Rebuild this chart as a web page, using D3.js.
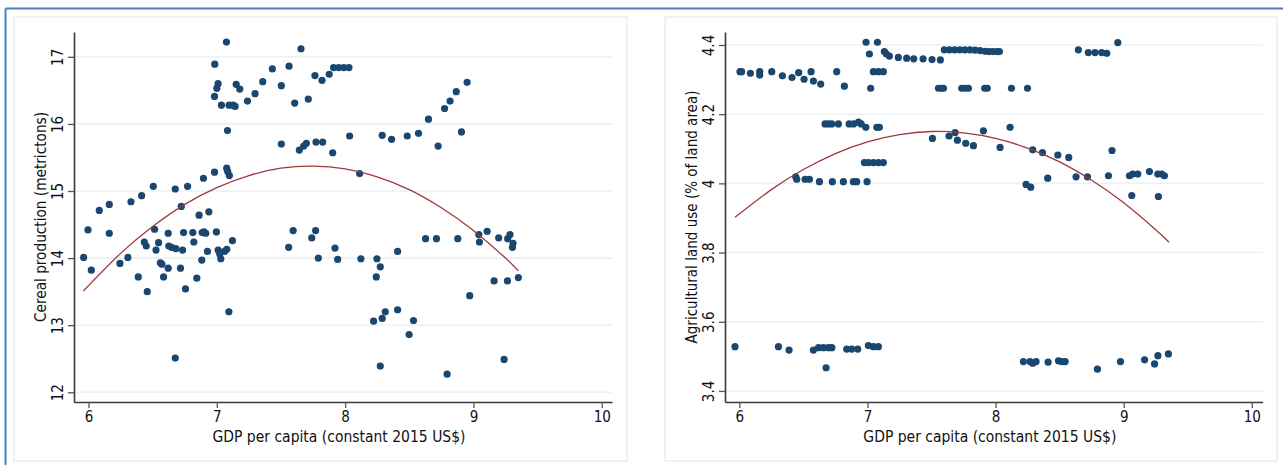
<!DOCTYPE html>
<html>
<head>
<meta charset="utf-8">
<script src="https://cdn.jsdelivr.net/npm/d3@7/dist/d3.min.js"></script>
<style>
  html, body { margin: 0; padding: 0; background: #fff; }
  svg { display: block; }
  text { font-family: "Liberation Sans Narrow", "Arial Narrow", "DejaVu Sans Condensed", sans-serif; fill: #111; }
</style>
</head>
<body>
<svg id="chart" width="1283" height="465"></svg>
<script>
// ---------- DATA ----------
const xTicks = [6, 7, 8, 9, 10];
const xTitle = "GDP per capita (constant 2015 US$)";

const cerealTicks = [12, 13, 14, 15, 16, 17];
const cerealTitle = "Cereal production (metrictons)";
const cerealPoints = [
  [7.075,17.22],[7.656,17.12],[6.984,16.89],[7.433,16.82],[7.563,16.86],[7.765,16.72],[7.82,16.65],[7.876,16.74],
  [7.91,16.84],[7.95,16.84],[7.99,16.84],[8.03,16.84],
  [7.01,16.6],[7.0,16.53],[7.151,16.59],[7.179,16.52],[7.358,16.63],[7.298,16.45],[7.239,16.34],[7.503,16.57],
  [7.607,16.31],[7.713,16.37],[6.982,16.41],[7.036,16.28],[7.096,16.28],[7.127,16.28],[7.143,16.26],[7.083,15.9],
  [7.503,15.7],[7.643,15.61],[7.677,15.67],[7.698,15.71],[7.773,15.73],[7.825,15.73],[7.903,15.57],[8.035,15.82],
  [7.077,15.34],[7.085,15.29],[7.098,15.23],[6.982,15.28],[6.896,15.19],[6.772,15.07],[6.676,15.03],[6.505,15.07],
  [6.414,14.93],[6.331,14.84],[6.162,14.8],[6.084,14.71],[5.996,14.42],[5.962,14.01],[6.022,13.82],[6.162,14.37],
  [6.245,13.92],[6.307,14.01],[6.388,13.72],[6.458,13.5],[6.515,14.43],[6.435,14.24],[6.45,14.18],[6.526,14.12],
  [6.546,14.23],[6.56,13.93],[6.572,13.91],[6.621,13.85],[6.585,13.72],[6.621,14.37],[6.626,14.18],[6.647,14.16],
  [6.681,14.14],[6.733,14.12],[6.723,14.77],[6.717,13.85],[6.756,13.54],[6.741,14.38],[6.813,14.38],[6.821,14.24],
  [6.862,14.64],[6.938,14.69],[6.886,14.38],[6.9,14.39],[6.914,14.37],[6.997,14.39],[6.844,13.7],[6.883,13.97],
  [6.927,14.1],[7.01,14.12],[7.023,14.06],[7.031,13.99],[7.06,14.1],[7.078,14.13],[7.122,14.26],[7.094,13.2],
  [6.676,12.51],[7.595,14.41],[7.56,14.16],[7.77,14.41],[7.74,14.3],[7.791,14.0],[7.921,14.15],[7.942,13.98],
  [8.951,16.62],[8.866,16.48],[8.818,16.34],[8.775,16.23],[8.65,16.07],[8.907,15.88],[8.725,15.67],[8.572,15.86],
  [8.484,15.82],[8.362,15.77],[8.289,15.83],[8.113,15.26],[8.123,13.99],[8.248,13.99],[8.274,13.87],[8.243,13.72],
  [8.409,14.1],[8.627,14.29],[8.712,14.29],[8.878,14.29],[9.042,14.35],[9.047,14.24],[9.107,14.4],[9.197,14.3],
  [9.267,14.29],[9.285,14.35],[9.309,14.22],[9.304,14.16],[9.161,13.66],[9.265,13.66],[9.35,13.71],[8.971,13.44],
  [8.222,13.06],[8.289,13.1],[8.313,13.2],[8.409,13.23],[8.533,13.07],[8.499,12.86],[8.274,12.39],[8.795,12.27],
  [9.239,12.49]
];
// fitted curve
const cerealFit = [
  [5.96,13.51],[6.25,14.07],[6.5,14.47],[6.75,14.8],[7.0,15.05],[7.25,15.23],[7.5,15.34],[7.75,15.37],
  [8.0,15.33],[8.25,15.21],[8.5,15.02],[8.75,14.75],[9.0,14.41],[9.25,14.0],[9.35,13.81]
];

const landTicks = [3.4, 3.6, 3.8, 4, 4.2, 4.4];
const landTitle = "Agricultural land use (% of land area)";
const landPoints = [
  [6.989,4.408],[7.078,4.408],[7.015,4.374],[7.132,4.381],[7.148,4.374],[7.171,4.368],[7.241,4.364],[7.306,4.362],
  [7.361,4.36],[7.434,4.36],[7.504,4.358],[7.569,4.357],
  [7.6,4.386],[7.64,4.386],[7.68,4.386],[7.72,4.386],[7.76,4.386],[7.8,4.386],[7.84,4.385],[7.88,4.384],
  [7.92,4.382],[7.95,4.381],[7.98,4.381],[8.01,4.381],[8.03,4.381],
  [8.646,4.386],[8.724,4.378],[8.776,4.378],[8.828,4.378],[8.868,4.376],[8.954,4.407],
  [6.005,4.323],[6.018,4.323],[6.086,4.318],[6.159,4.323],[6.159,4.313],[6.253,4.323],[6.336,4.311],[6.411,4.306],
  [6.463,4.32],[6.505,4.301],[6.56,4.323],[6.578,4.296],[6.635,4.287],[6.76,4.323],[6.82,4.281],[7.025,4.275],
  [7.046,4.323],[7.085,4.323],[7.124,4.323],
  [7.554,4.275],[7.575,4.275],[7.593,4.275],[7.736,4.275],[7.762,4.275],[7.788,4.275],[7.915,4.275],[7.935,4.275],
  [8.124,4.275],[8.249,4.275],
  [6.669,4.172],[6.695,4.172],[6.721,4.172],[6.773,4.172],[6.857,4.172],[6.891,4.172],[6.93,4.177],[6.951,4.172],
  [6.987,4.162],[7.073,4.162],[7.093,4.162],[8.113,4.162],
  [6.976,4.06],[7.007,4.06],[7.046,4.06],[7.085,4.06],[7.124,4.06],
  [6.44,4.019],[6.448,4.012],[6.513,4.012],[6.547,4.012],[6.625,4.005],[6.726,4.005],[6.812,4.005],[6.89,4.005],
  [6.916,4.005],[6.997,4.005],
  [7.507,4.13],[7.637,4.137],[7.684,4.147],[7.702,4.125],[7.767,4.116],[7.827,4.109],[7.905,4.152],[8.035,4.104],
  [8.29,4.097],[8.366,4.089],[8.486,4.082],[8.571,4.075],[8.909,4.095],[8.238,3.997],[8.274,3.989],[8.407,4.015],
  [8.628,4.019],[8.717,4.019],[8.881,4.022],[9.045,4.022],[9.071,4.027],[9.11,4.027],[9.201,4.034],[9.266,4.027],
  [9.297,4.027],[9.318,4.022],[9.063,3.965],[9.271,3.962],
  [5.966,3.528],[6.305,3.528],[6.388,3.518],[6.578,3.518],[6.618,3.525],[6.657,3.525],[6.696,3.525],[6.722,3.525],
  [6.677,3.467],[6.838,3.521],[6.877,3.521],[6.924,3.521],[7.007,3.531],[7.046,3.528],[7.085,3.528],
  [8.217,3.485],[8.269,3.485],[8.29,3.48],[8.316,3.485],[8.41,3.483],[8.491,3.487],[8.517,3.485],[8.543,3.485],
  [8.795,3.463],[8.975,3.485],[9.163,3.49],[9.241,3.478],[9.267,3.502],[9.349,3.507]
];
const landFit = [
  [5.966,3.902],[6.25,3.982],[6.5,4.04],[6.75,4.086],[7.0,4.12],[7.25,4.141],[7.5,4.15],[7.75,4.146],
  [8.0,4.13],[8.25,4.102],[8.5,4.062],[8.75,4.009],[9.0,3.944],[9.25,3.866],[9.354,3.83]
];

// ---------- DRAW ----------
const svg = d3.select("#chart");
const dotColor = "#1a476f";
const fitColor = "#a0393e";
const gridColor = "#eaf2f3";
const axisColor = "#3a3a3a";

// blue outer frame (top and left edges)
svg.append("line").attr("x1", 5.5).attr("x2", 1283).attr("y1", 8.5).attr("y2", 8.5)
  .attr("stroke", "#4a7ebf").attr("stroke-width", 2);
svg.append("line").attr("x1", 5.5).attr("x2", 5.5).attr("y1", 8.5).attr("y2", 465)
  .attr("stroke", "#4a7ebf").attr("stroke-width", 2);

function panel(cfg) {
  // panel box
  svg.append("rect").attr("x", cfg.box[0]).attr("y", cfg.box[1])
    .attr("width", cfg.box[2] - cfg.box[0]).attr("height", cfg.box[3] - cfg.box[1])
    .attr("fill", "#fff").attr("stroke", "#e7eef0").attr("stroke-width", 1.5);

  const x = d3.scaleLinear().domain(cfg.xDomain).range([cfg.left, cfg.right]);
  const y = d3.scaleLinear().domain(cfg.yDomain).range([cfg.bottom, cfg.top]);
  const g = svg.append("g");

  // gridlines
  g.append("g").selectAll("line").data(cfg.yTicks).join("line")
    .attr("x1", cfg.left).attr("x2", cfg.right)
    .attr("y1", d => y(d)).attr("y2", d => y(d))
    .attr("stroke", gridColor).attr("stroke-width", 1.6);

  // y axis
  const ya = g.append("g").attr("transform", `translate(${cfg.left},0)`)
    .call(d3.axisLeft(y).tickValues(cfg.yTicks).tickSize(6).tickPadding(4)
      .tickFormat(d3.format("~g")).tickSizeOuter(0));
  ya.select(".domain").attr("stroke", axisColor).attr("stroke-width", 1.6);
  ya.selectAll(".tick line").attr("stroke", "#555").attr("stroke-width", 1.3);
  ya.selectAll(".tick text")
    .attr("transform", "rotate(-90)")
    .attr("x", 0).attr("y", -11).attr("dy", 0)
    .attr("text-anchor", "middle")
    .style("font-size", "15px").style("font-family", null);

  // x axis
  const xa = g.append("g").attr("transform", `translate(0,${cfg.bottom})`)
    .call(d3.axisBottom(x).tickValues(xTicks).tickSize(6).tickPadding(4)
      .tickFormat(d3.format("d")).tickSizeOuter(0));
  xa.select(".domain").attr("stroke", axisColor).attr("stroke-width", 1.6);
  xa.selectAll(".tick line").attr("stroke", "#555").attr("stroke-width", 1.3);
  xa.selectAll(".tick text").attr("y", 20).attr("dy", 0)
    .style("font-size", "15px").style("font-family", null);

  // axis titles
  g.append("text").attr("x", (cfg.left + cfg.right) / 2 - 4).attr("y", cfg.bottom + 40)
    .attr("text-anchor", "middle").style("font-size", "15px")
    .attr("textLength", 253).attr("lengthAdjust", "spacingAndGlyphs").text(xTitle);
  g.append("text")
    .attr("transform", `translate(${cfg.left - 28},${cfg.titleY}) rotate(-90)`)
    .attr("text-anchor", "middle").style("font-size", "15px")
    .attr("textLength", cfg.titleLen).attr("lengthAdjust", "spacingAndGlyphs").text(cfg.yTitle);

  // points
  g.append("g").selectAll("circle").data(cfg.points).join("circle")
    .attr("cx", d => x(d[0])).attr("cy", d => y(d[1])).attr("r", 3.6)
    .attr("fill", dotColor);

  // fitted curve
  g.append("path").datum(cfg.fit)
    .attr("d", d3.line().x(d => x(d[0])).y(d => y(d[1])).curve(d3.curveNatural))
    .attr("fill", "none").attr("stroke", fitColor).attr("stroke-width", 1.3);
}

panel({
  box: [14, 17, 627, 461],
  left: 74, right: 612, top: 32, bottom: 402,
  xDomain: [5.887, 10.08], yDomain: [11.855, 17.37],
  yTicks: cerealTicks, yTitle: cerealTitle, titleY: 217, titleLen: 210,
  points: cerealPoints, fit: cerealFit
});

panel({
  box: [665, 17, 1277, 461],
  left: 725, right: 1262.7, top: 32, bottom: 402,
  xDomain: [5.888, 10.085], yDomain: [3.368, 4.4376],
  yTicks: landTicks, yTitle: landTitle, titleY: 217, titleLen: 253,
  points: landPoints, fit: landFit
});
</script>
</body>
</html>
